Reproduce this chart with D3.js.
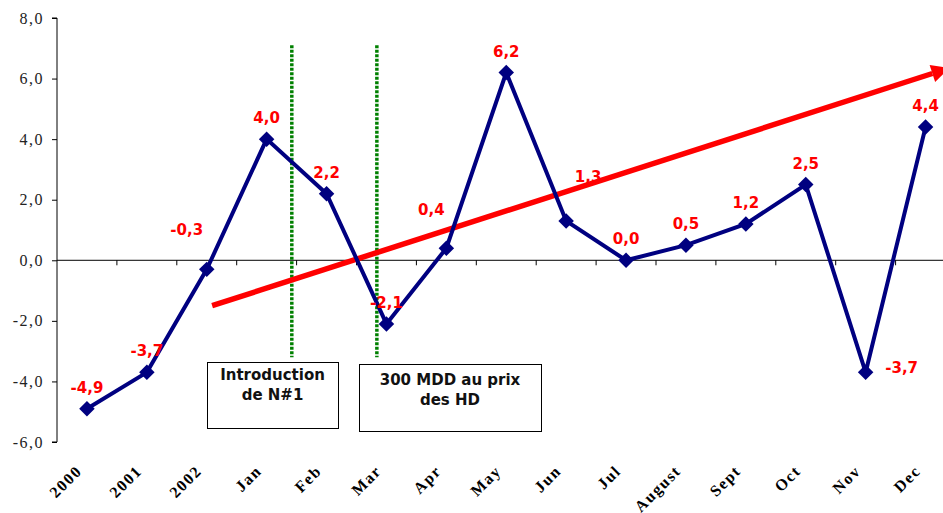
<!DOCTYPE html>
<html>
<head>
<meta charset="utf-8">
<script src="https://cdn.jsdelivr.net/npm/d3@7"></script>
<style>
  html, body { margin: 0; padding: 0; background: #fff; }
  svg { display: block; }
</style>
</head>
<body>
<svg id="chart" width="943" height="513"></svg>
<script>
// Periods on the category axis
const categories = ["2000", "2001", "2002", "Jan", "Feb", "Mar", "Apr", "May",
                    "Jun", "Jul", "August", "Sept", "Oct", "Nov", "Dec"];
// Evolution (%) per period
const values = [-4.9, -3.7, -0.3, 4.0, 2.2, -2.1, 0.4, 6.2,
                1.3, 0.0, 0.5, 1.2, 2.5, -3.7, 4.4];
// Value axis ticks
const yTicks = [-6, -4, -2, 0, 2, 4, 6, 8];
// Trend arrow, in category-index / value units
const trendStart = [2.09, -1.5];
const trendEnd = [14.4, 6.35];
// Event markers (category index) and their captions
const eventIndex = [3.42, 4.84];
const eventSpan = [7.1, -3.2];
const eventCaptions = [["Introduction", "de N#1"], ["300 MDD au prix", "des HD"]];

const svg = d3.select("#chart");
const W = 943, H = 513;
svg.append("rect").attr("width", W).attr("height", H).attr("fill", "#fff");

const plotLeft = 57, plotRight = 955.5, plotTop = 18, plotBottom = 442;
const x = d3.scaleBand().domain(categories).range([plotLeft, plotRight]).padding(0);
const xi = d3.scaleLinear().domain([-0.5, categories.length - 0.5]).range([plotLeft, plotRight]);
const y = d3.scaleLinear().domain([-6, 8]).range([plotBottom, plotTop]);
const cx = c => x(c) + x.bandwidth() / 2;
const fmt = v => d3.format(".1f")(v).replace(".", ",").replace("−", "-");

// Value axis
const yAxis = d3.axisLeft(y).tickValues(yTicks).tickSize(5).tickPadding(8)
  .tickFormat(fmt);
const gy = svg.append("g").attr("transform", `translate(${plotLeft},0)`).call(yAxis);
gy.select(".domain").attr("stroke", "#000").attr("d", `M-5,${plotTop}H0V${plotBottom}H-5`);
gy.selectAll(".tick line").attr("stroke", "#000");
gy.selectAll(".tick text")
  .attr("font-family", "'Liberation Serif', 'Times New Roman', serif")
  .attr("font-size", 16).attr("fill", "#222").attr("letter-spacing", 1.5);

// Category axis drawn along the zero line
const xAxis = d3.axisBottom(x).tickSize(0).tickFormat("");
const gx = svg.append("g").attr("transform", `translate(0,${y(0)})`).call(xAxis);
gx.select(".domain").attr("stroke", "#000").attr("d", `M${plotLeft},0H${plotRight}`);
gx.selectAll(".tick").remove();
gx.selectAll(".bound").data(categories).enter().append("line")
  .attr("x1", d => x(d) + x.bandwidth()).attr("x2", d => x(d) + x.bandwidth())
  .attr("y1", 0).attr("y2", 5).attr("stroke", "#000");

// Rotated category labels below the plot
svg.append("g").selectAll("text").data(categories).enter().append("text")
  .attr("transform", d => `translate(${cx(d) - 4},${plotBottom + 30}) rotate(-45)`)
  .attr("text-anchor", "end")
  .attr("font-family", "'Liberation Serif', 'Times New Roman', serif")
  .attr("font-weight", "bold").attr("font-size", 16).attr("letter-spacing", 1.5)
  .attr("fill", "#000")
  .text(d => d);

// Event markers (green dotted verticals)
svg.append("g").selectAll("line").data(eventIndex).enter().append("line")
  .attr("x1", d => xi(d)).attr("x2", d => xi(d))
  .attr("y1", y(eventSpan[0])).attr("y2", y(eventSpan[1]))
  .attr("stroke", "#008000").attr("stroke-width", 3.5)
  .attr("stroke-dasharray", "3,1.5");

// Trend arrow
const tx0 = xi(trendStart[0]), ty0 = y(trendStart[1]);
const tx1 = xi(trendEnd[0]), ty1 = y(trendEnd[1]);
const ang = Math.atan2(ty1 - ty0, tx1 - tx0);
const headLen = 18, headHalf = 9;
const bx = tx1 - headLen * Math.cos(ang), by = ty1 - headLen * Math.sin(ang);
svg.append("line")
  .attr("x1", tx0).attr("y1", ty0).attr("x2", bx).attr("y2", by)
  .attr("stroke", "#ff0000").attr("stroke-width", 5.5);
svg.append("path")
  .attr("d", `M${tx1},${ty1}L${bx - headHalf * Math.sin(ang)},${by + headHalf * Math.cos(ang)}` +
             `L${bx + headHalf * Math.sin(ang)},${by - headHalf * Math.cos(ang)}Z`)
  .attr("fill", "#ff0000");

// Main series line
const pts = categories.map((c, i) => ({ c, v: values[i] }));
svg.append("path").datum(pts)
  .attr("d", d3.line().x(d => cx(d.c)).y(d => y(d.v)))
  .attr("fill", "none").attr("stroke", "#000080").attr("stroke-width", 4)
  .attr("stroke-linejoin", "miter");

// Diamond markers
svg.append("g").selectAll("path").data(pts).enter().append("path")
  .attr("transform", d => `translate(${cx(d.c)},${y(d.v)}) rotate(45)`)
  .attr("d", d3.symbol().type(d3.symbolSquare).size(120)())
  .attr("fill", "#000080");

// Value labels: above the marker unless a placement is given
const placement = {
  "2002": { dx: -20, dy: -34 },
  "Apr": { dx: -15, dy: -33 },
  "Jun": { dx: 22, dy: -39 },
  "Nov": { dx: 36, dy: 1 }
};
svg.append("g").selectAll("text").data(pts).enter().append("text")
  .attr("x", d => cx(d.c) + (placement[d.c] ? placement[d.c].dx : 0))
  .attr("y", d => y(d.v) + (placement[d.c] ? placement[d.c].dy : -16))
  .attr("text-anchor", "middle")
  .attr("font-family", "'DejaVu Sans', Verdana, sans-serif")
  .attr("font-weight", "bold").attr("font-size", 15)
  .attr("fill", "#ff0000")
  .text(d => fmt(d.v));

// Caption boxes for the events
const boxes = [
  { x: 207, y: 362, w: 131, h: 66, lines: eventCaptions[0], base: 18 },
  { x: 359, y: 364, w: 182, h: 67, lines: eventCaptions[1], base: 21 }
];
boxes.forEach(b => {
  const g = svg.append("g");
  g.append("rect").attr("x", b.x + 0.5).attr("y", b.y + 0.5)
    .attr("width", b.w).attr("height", b.h)
    .attr("fill", "#fff").attr("stroke", "#000").attr("stroke-width", 1);
  b.lines.forEach((t, i) => {
    g.append("text")
      .attr("x", b.x + b.w / 2).attr("y", b.y + b.base + i * 20)
      .attr("text-anchor", "middle")
      .attr("font-family", "'DejaVu Sans', Verdana, sans-serif")
      .attr("font-weight", "bold").attr("font-size", 15).attr("fill", "#111")
      .text(t);
  });
});
</script>
</body>
</html>
